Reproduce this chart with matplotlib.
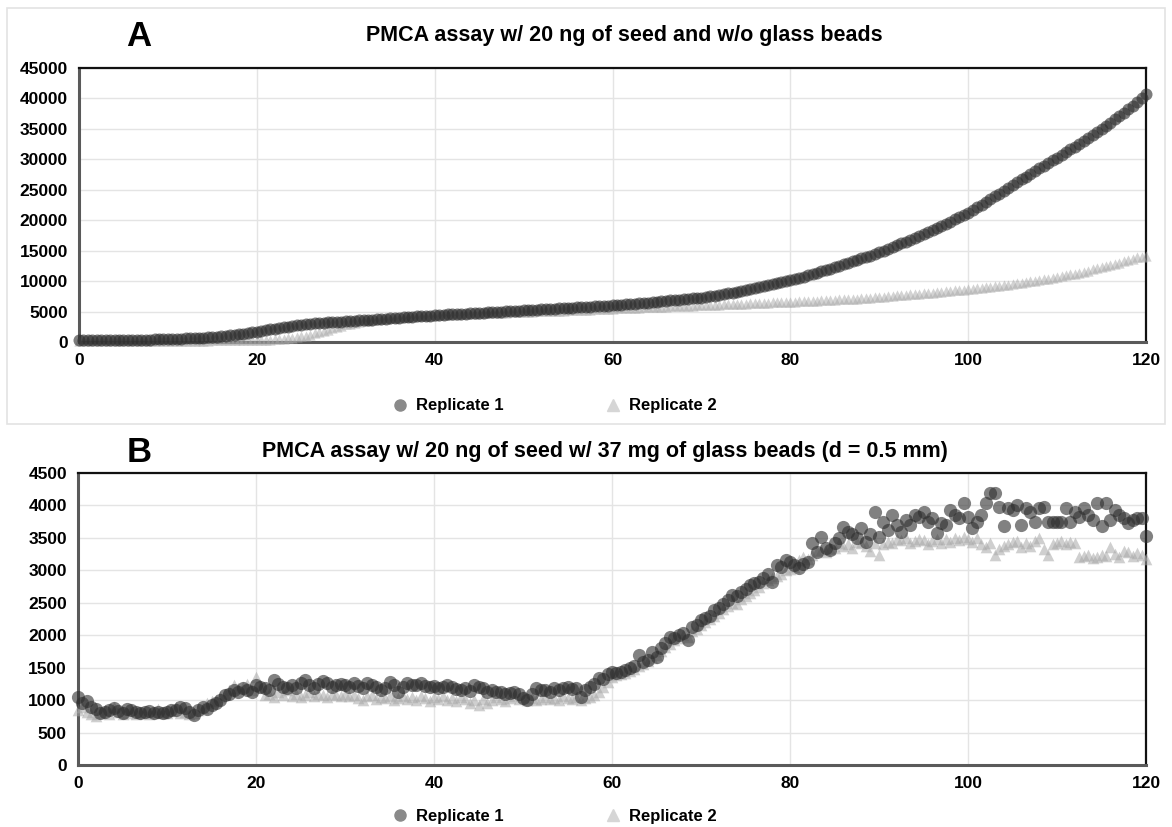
import numpy as np
import matplotlib
matplotlib.use("Agg")
import matplotlib.pyplot as plt
from matplotlib.lines import Line2D
from matplotlib.patches import Rectangle

plt.rcParams['font.family'] = ['Liberation Sans', 'DejaVu Sans']
plt.rcParams['font.weight'] = 'bold'

# ---------------- data (time step 0.5) ----------------
step = 0.5

a_rep1 = [
    300, 305, 310, 315, 320, 325, 330, 335, 340, 345, 350, 360, 370, 380, 390, 400, 410, 420, 440, 460,
    480, 500, 520, 550, 580, 610, 640, 680, 720, 770, 830, 890, 960, 1030, 1110, 1190, 1280, 1380, 1480, 1590,
    1700, 1820, 1940, 2060, 2180, 2300, 2420, 2540, 2650, 2750, 2840, 2920, 2990, 3050, 3110, 3170, 3220, 3270, 3310, 3350,
    3390, 3440, 3490, 3540, 3590, 3640, 3690, 3740, 3790, 3840, 3890, 3940, 3990, 4040, 4090, 4140, 4190, 4240, 4290, 4340,
    4400, 4440, 4480, 4520, 4560, 4600, 4640, 4680, 4720, 4760, 4800, 4840, 4880, 4920, 4960, 5000, 5040, 5080, 5120, 5160,
    5200, 5240, 5280, 5320, 5360, 5400, 5440, 5480, 5520, 5560, 5600, 5640, 5680, 5720, 5760, 5800, 5840, 5880, 5920, 5960,
    6000, 6050, 6110, 6170, 6230, 6290, 6350, 6410, 6470, 6540, 6610, 6680, 6750, 6820, 6890, 6960, 7030, 7100, 7170, 7230,
    7300, 7400, 7510, 7620, 7740, 7860, 7980, 8100, 8230, 8360, 8500, 8650, 8800, 8960, 9120, 9290, 9460, 9630, 9800, 9980,
    10150, 10340, 10530, 10730, 10930, 11140, 11360, 11580, 11810, 12050, 12300, 12530, 12760, 13000, 13240, 13480, 13720, 13960, 14200, 14450,
    14700, 15000, 15300, 15600, 15900, 16200, 16500, 16820, 17140, 17460, 17800, 18120, 18440, 18770, 19100, 19440, 19780, 20120, 20480, 20840,
    21200, 21650, 22100, 22550, 23000, 23450, 23900, 24380, 24860, 25340, 25800, 26250, 26700, 27150, 27600, 28050, 28500, 28950, 29400, 29850,
    30300, 30750, 31200, 31650, 32100, 32550, 33000, 33460, 33940, 34420, 34900, 35450, 36000, 36550, 37100, 37650, 38200, 38800, 39400, 40000,
    40700,
]

a_rep2 = [
    150, 155, 160, 165, 170, 175, 180, 185, 190, 195, 200, 200, 205, 205, 210, 210, 215, 215, 220, 220,
    225, 225, 230, 230, 235, 235, 240, 240, 245, 245, 250, 250, 255, 255, 260, 260, 265, 265, 270, 270,
    280, 300, 330, 370, 420, 480, 550, 630, 720, 820, 930, 1060, 1220, 1400, 1600, 1820, 2050, 2280, 2500, 2700,
    2880, 3030, 3170, 3290, 3400, 3500, 3590, 3670, 3740, 3810, 3870, 3930, 3990, 4040, 4090, 4140, 4190, 4230, 4270, 4310,
    4350, 4390, 4420, 4450, 4480, 4510, 4540, 4570, 4600, 4630, 4660, 4690, 4710, 4740, 4770, 4800, 4820, 4850, 4880, 4900,
    4930, 4960, 4980, 5010, 5040, 5060, 5090, 5110, 5140, 5170, 5190, 5220, 5250, 5270, 5300, 5330, 5360, 5390, 5420, 5450,
    5480, 5510, 5540, 5570, 5600, 5630, 5660, 5690, 5720, 5740, 5770, 5800, 5830, 5850, 5880, 5900, 5930, 5960, 5980, 6010,
    6040, 6060, 6090, 6120, 6150, 6170, 6200, 6230, 6260, 6290, 6310, 6340, 6370, 6400, 6430, 6460, 6490, 6520, 6550, 6580,
    6610, 6640, 6680, 6710, 6740, 6770, 6810, 6840, 6870, 6910, 6940, 6980, 7020, 7060, 7100, 7140, 7180, 7230, 7270, 7320,
    7400, 7460, 7520, 7580, 7640, 7700, 7760, 7820, 7880, 7940, 8000, 8060, 8120, 8180, 8250, 8320, 8390, 8460, 8530, 8600,
    8680, 8760, 8840, 8920, 9000, 9080, 9160, 9250, 9340, 9430, 9520, 9620, 9720, 9830, 9940, 10050, 10170, 10290, 10410, 10540,
    10670, 10810, 10950, 11100, 11250, 11410, 11570, 11740, 11910, 12090, 12270, 12460, 12650, 12850, 13050, 13250, 13460, 13670, 13880, 14000,
    14200,
]

b_rep1 = [
    1050, 950, 980, 900, 870, 800, 820, 850, 880, 830, 800, 860, 850, 820, 800, 810, 830, 800, 810, 800,
    820, 840, 850, 900, 880, 820, 770, 850, 900, 870, 930, 960, 1000, 1080, 1100, 1150, 1120, 1180, 1150, 1130,
    1230, 1200, 1180, 1150, 1310, 1250, 1200, 1180, 1230, 1190, 1260, 1310, 1230, 1180, 1250, 1290, 1260, 1200, 1230, 1250,
    1230, 1200, 1260, 1220, 1180, 1270, 1230, 1200, 1160, 1180, 1280, 1230, 1130, 1200, 1260, 1230, 1240, 1260, 1220, 1200,
    1210, 1180, 1200, 1230, 1200, 1170, 1160, 1190, 1140, 1230, 1200, 1180, 1130, 1150, 1130, 1120, 1100, 1110, 1130, 1090,
    1040, 1000, 1100, 1180, 1150, 1160, 1130, 1180, 1150, 1190, 1200, 1170, 1180, 1050, 1150, 1205, 1250, 1340, 1330, 1400,
    1440, 1420, 1440, 1460, 1490, 1520, 1700, 1590, 1620, 1745, 1670, 1800, 1880, 1980, 1960, 2000, 2030, 1925, 2130, 2150,
    2230, 2260, 2300, 2390, 2420, 2480, 2540, 2620, 2600, 2670, 2720, 2770, 2800, 2820, 2880, 2950, 2820, 3080, 3050, 3160,
    3130, 3080, 3030, 3100, 3130, 3420, 3280, 3520, 3340, 3310, 3420, 3500, 3670, 3590, 3560, 3500, 3650, 3440, 3560, 3900,
    3520, 3750, 3620, 3850, 3700, 3590, 3780, 3700, 3850, 3820, 3900, 3750, 3800, 3570, 3730, 3700, 3930, 3850, 3800, 4030,
    3820, 3650, 3750, 3850, 4030, 4190, 4190, 3980, 3680, 3960, 3930, 4000, 3700, 3960, 3900, 3750, 3960, 3980, 3750, 3750,
    3750, 3750, 3960, 3750, 3900, 3820, 3960, 3850, 3780, 4030, 3680, 4030, 3780, 3930, 3850, 3800, 3730, 3780, 3800, 3800,
    3530,
]

b_rep2 = [
    850, 900, 820, 780, 750, 800, 850, 780, 900, 820, 780, 800, 850, 790, 820, 800, 780, 820, 860, 800,
    800, 830, 900, 800, 820, 780, 800, 850, 880, 950, 980, 1000, 1050, 1100, 1150, 1230, 1180, 1200, 1250, 1150,
    1360, 1200, 1080, 1100, 1050, 1120, 1080, 1150, 1070, 1100, 1050, 1080, 1120, 1060, 1100, 1080, 1050, 1100, 1080, 1060,
    1100, 1070, 1080, 1040, 1000, 1060, 1080, 1020, 1050, 1030, 1060, 1000, 1040, 1070, 1020, 1050, 1000, 1060, 1030, 980,
    1050, 1020, 1060, 1000, 1030, 980, 1050, 1020, 950, 1000, 930, 1020, 960, 1000, 1050, 1020, 980, 1040, 1060, 1020,
    1050, 1000, 1040, 1000, 1020, 1050, 1010, 1040, 1000, 1060, 1030, 1010, 1050, 1000, 1030, 1050, 1080, 1120, 1200, 1280,
    1350, 1380, 1400, 1420, 1450, 1480, 1520, 1550, 1600, 1650, 1700, 1760, 1820, 1870, 1920, 1960, 2000, 1980, 2060, 2100,
    2150, 2200, 2250, 2300, 2350, 2400, 2450, 2500, 2480, 2560, 2600, 2650, 2700, 2750, 2800, 2850, 2880, 2920, 2950, 3000,
    3020, 3050, 3160, 3200, 3180, 3230, 3300, 3310, 3280, 3330, 3350, 3420, 3380, 3400, 3350, 3440, 3420, 3380, 3300, 3420,
    3240, 3400, 3440, 3420, 3480, 3460, 3500, 3420, 3450, 3480, 3470, 3400, 3450, 3490, 3420, 3480, 3440, 3500, 3460, 3510,
    3480, 3440, 3500, 3400, 3360, 3420, 3240, 3330, 3380, 3400, 3440, 3450, 3360, 3420, 3380, 3450, 3500, 3330, 3240, 3400,
    3420, 3450, 3400, 3440, 3420, 3200, 3220, 3230, 3190, 3210, 3240, 3220, 3360, 3250, 3200, 3300, 3280, 3220, 3260, 3240,
    3180,
]

titles = ["PMCA assay w/ 20 ng of seed and w/o glass beads",
          "PMCA assay w/ 20 ng of seed w/ 37 mg of glass beads (d = 0.5 mm)"]
panel_letters = ["A", "B"]
series_names = ["Replicate 1", "Replicate 2"]
x_ticks = [0, 20, 40, 60, 80, 100, 120]
a_yticks = list(range(0, 45001, 5000))
b_yticks = list(range(0, 4501, 500))

# ---------------- figure ----------------
W, H = 1172, 827
fig = plt.figure(figsize=(W / 100, H / 100), dpi=100)

def ax_rect(l, r, t, b):
    return [l / W, 1 - b / H, (r - l) / W, (b - t) / H]

# light outer panel box
fig.patches.append(Rectangle((7 / W, 1 - 424 / H), (1165 - 7) / W, (424 - 8) / H,
                             transform=fig.transFigure, fill=False, ec='#e3e3e3', lw=1.2))

axA = fig.add_axes(ax_rect(79, 1146, 68, 342))
axB = fig.add_axes(ax_rect(78, 1146, 473, 765))

def style(ax, yticks):
    ax.set_xlim(0, 120)
    ax.set_ylim(yticks[0], yticks[-1])
    ax.set_xticks(x_ticks)
    ax.set_yticks(yticks)
    ax.grid(True, color='#e4e4e4', lw=1.0)
    ax.set_axisbelow(True)
    ax.tick_params(length=0, labelsize=12.5, pad=8)
    for lab in ax.get_xticklabels() + ax.get_yticklabels():
        lab.set_fontweight('bold')
    for s in ['top', 'right']:
        ax.spines[s].set_color('#111111')
        ax.spines[s].set_linewidth(1.6)
    for s in ['left', 'bottom']:
        ax.spines[s].set_color('#5a5a5a')
        ax.spines[s].set_linewidth(2.2)

def plot_panel(ax, r1, r2, s1, s2, a1, a2):
    x1 = np.arange(len(r1)) * step
    x2 = np.arange(len(r2)) * step
    ax.scatter(x2, r2, marker='^', s=s2, color='#a8a8a8', alpha=a2, lw=0, zorder=3, clip_on=False)
    ax.scatter(x1, r1, marker='o', s=s1, color='#2e2e2e', alpha=a1, lw=0, zorder=4, clip_on=False)

plot_panel(axA, a_rep1, a_rep2, 75, 55, 0.62, 0.5)
plot_panel(axB, b_rep1, b_rep2, 90, 70, 0.6, 0.55)
style(axA, a_yticks)
style(axB, b_yticks)

# titles and panel letters
fig.text(139 / W, 1 - 36 / H, panel_letters[0], fontsize=25, fontweight='bold', ha='center', va='center')
fig.text(624 / W, 1 - 36 / H, titles[0], fontsize=15.5, fontweight='bold', ha='center', va='center')
fig.text(139 / W, 1 - 452 / H, panel_letters[1], fontsize=25, fontweight='bold', ha='center', va='center')
fig.text(605 / W, 1 - 452 / H, titles[1], fontsize=15.5, fontweight='bold', ha='center', va='center')

# legends
handles = [Line2D([], [], marker='o', ls='none', color='#8a8a8a', markersize=8),
           Line2D([], [], marker='^', ls='none', color='#d6d6d6', markersize=8)]
for yc in (406, 816):
    fig.legend(handles, series_names, loc='center', bbox_to_anchor=(554 / W, 1 - yc / H),
               ncol=2, frameon=False, handletextpad=0.45, columnspacing=6.1,
               handlelength=1.0, prop={'weight': 'bold', 'size': 12})

fig.savefig('out.png', dpi=100, facecolor='white')
